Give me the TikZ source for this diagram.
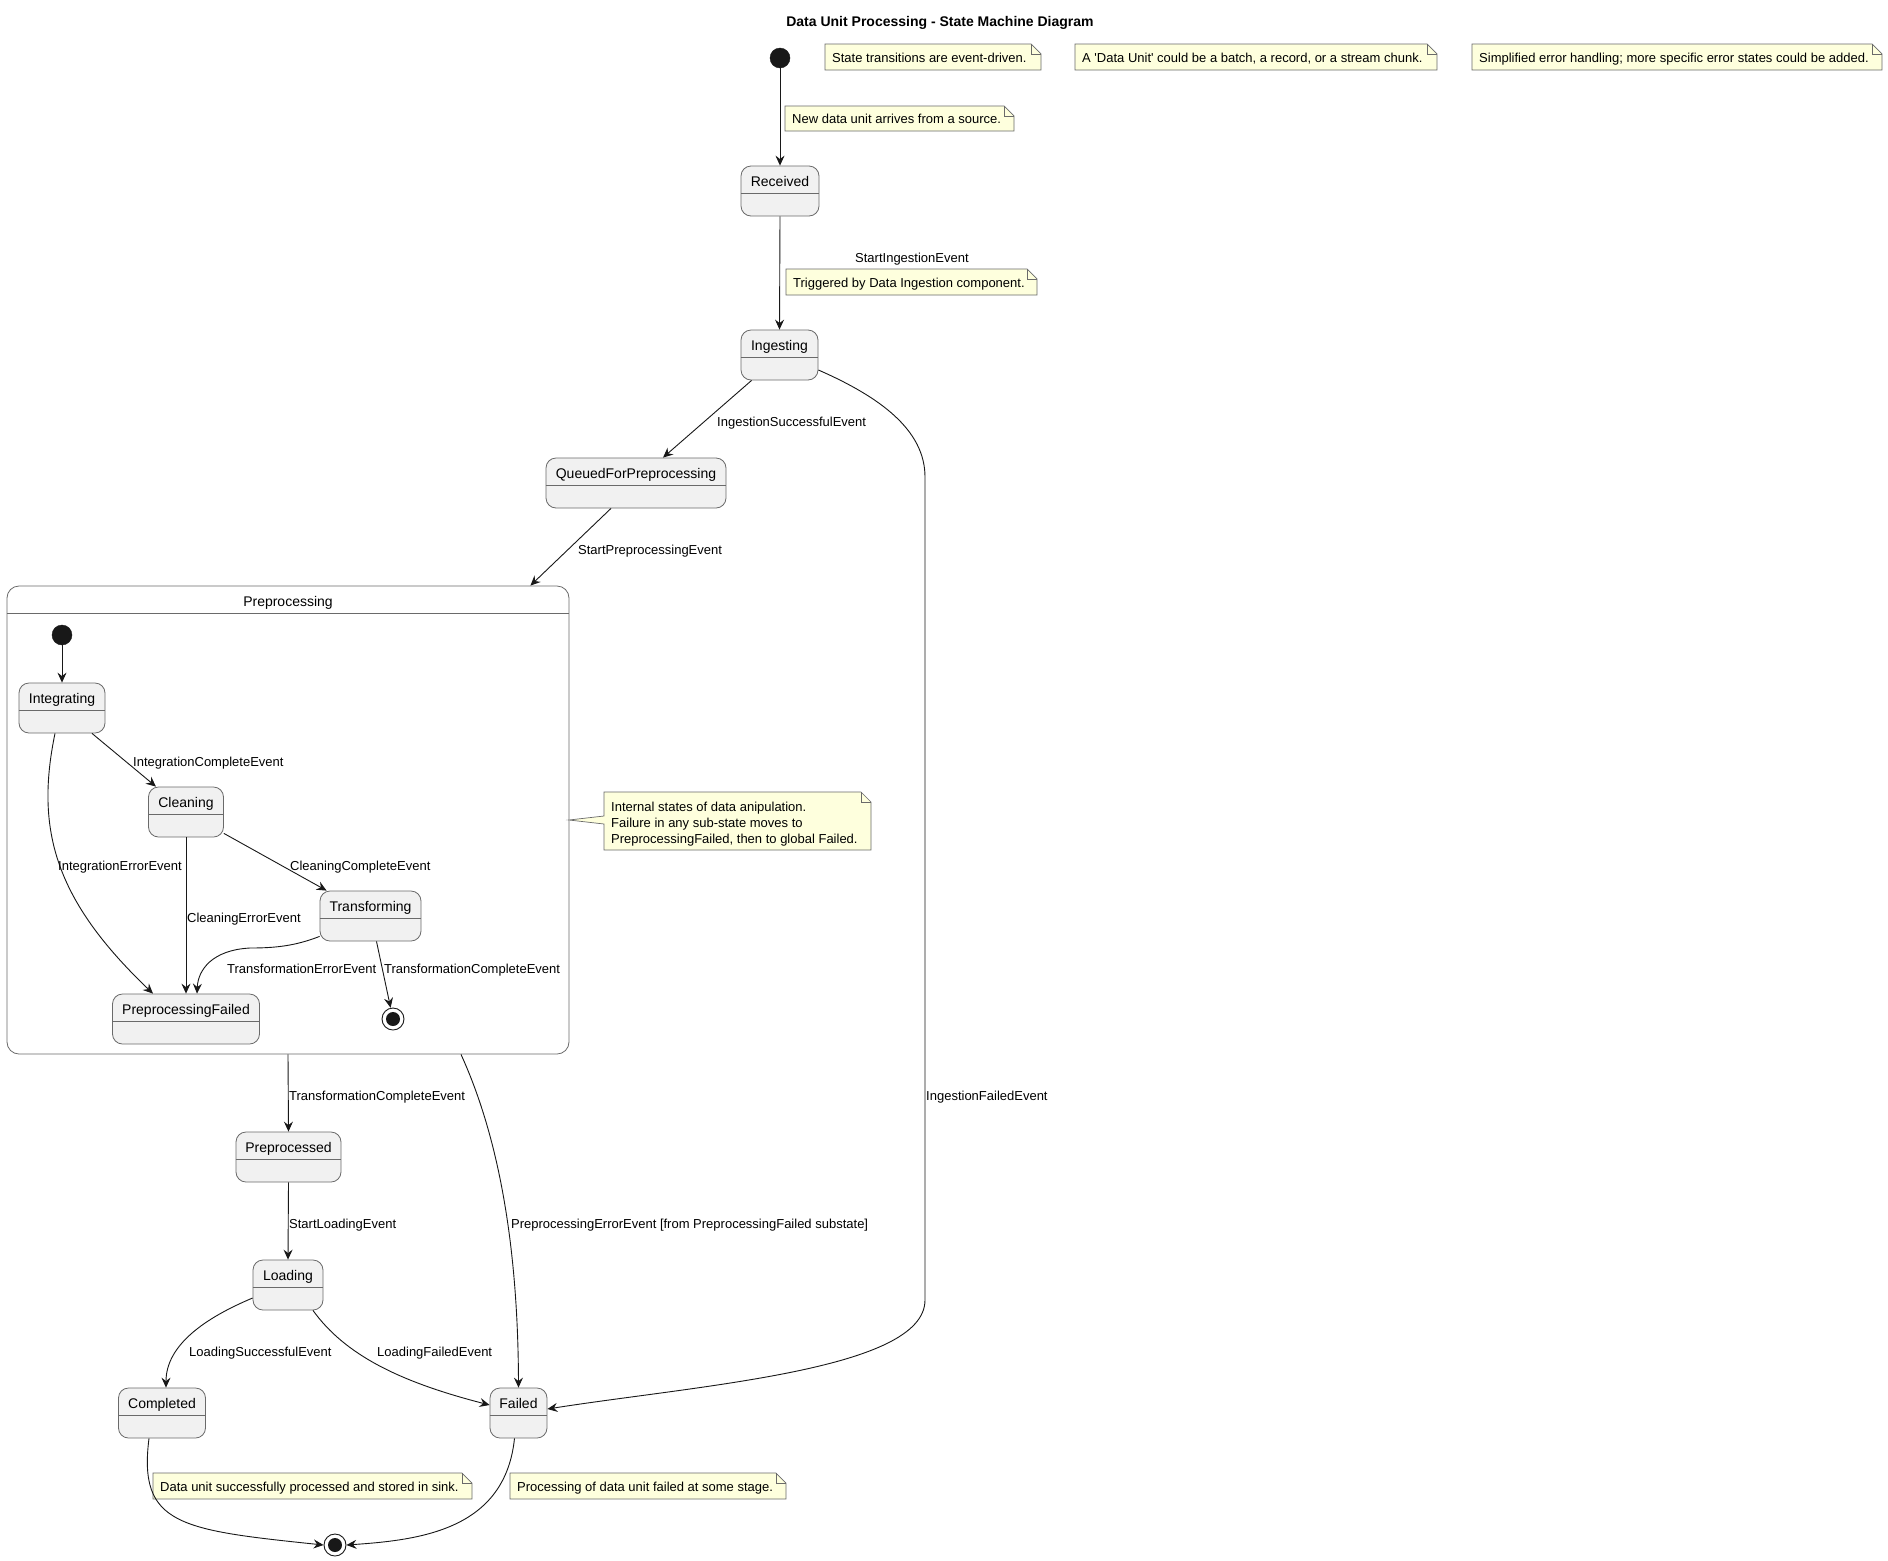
\documentclass[tikz,border=0pt]{standalone}
\usepackage{fontspec}
\setmainfont{Liberation Sans}
\usetikzlibrary{arrows.meta,calc}
\definecolor{stfill}{HTML}{F1F1F1}
\definecolor{stline}{HTML}{6A6A6A}
\definecolor{notefill}{HTML}{FEFFDD}
\definecolor{ink}{HTML}{181818}
\newcommand\mkstate[5]{%
  \node[st, minimum width=#4pt] (#1) at (#2,#3+25) {};
  \draw[sepl] ([yshift=-28pt]#1.north west) -- ([yshift=-28pt]#1.north east);
  \node[sname, anchor=base] (#1-name) at ([yshift=-21pt]#1.north) {#5};
}
\newcommand\mknote[6]{%
  \path[notebg] (#2,#3) -- (#4-10,#3) -- (#4,#3+10) -- (#4,#5) -- (#2,#5) -- cycle;
  \draw[notefold] (#4-10,#3) -- (#4-10,#3+10) -- (#4,#3+10);
  \node[ntxt] (#1) at (#2+7, {(#3+#5)/2+5}) {#6};
}
\begin{document}
\begin{tikzpicture}[x=1pt,y=-1pt,
  st/.style={draw=stline, fill=stfill, line width=0.8pt, rounded corners=10pt, minimum height=50pt, inner sep=0pt},
  sepl/.style={draw=stline, line width=0.8pt},
  sname/.style={font=\fontsize{14}{16}\selectfont, inner sep=0pt, text=black},
  lbl/.style={font=\fontsize{13}{15}\selectfont, inner sep=0pt, anchor=base west, text=black},
  arr/.style={draw=ink, line width=0.9pt, -{Stealth[length=10pt,width=9pt,inset=3.5pt]}},
  notebg/.style={draw=stline, fill=notefill, line width=0.7pt},
  notefold/.style={draw=stline, line width=0.7pt},
  ntxt/.style={font=\fontsize{13}{15}\selectfont, inner sep=0pt, anchor=base west, text=black},
  initdot/.style={circle, fill=ink, draw=ink, minimum size=20pt, inner sep=0pt},
  finalst/.style={circle, draw=ink, fill=white, line width=0.9pt, minimum size=22pt, inner sep=0pt,
    path picture={\fill[ink] (path picture bounding box.center) circle (7pt);}}
]
\useasboundingbox (0,0) rectangle (1888,1561);
\fill[white] (0,0) rectangle (1888,1561);

% title
\node[font=\bfseries\fontsize{14}{16}\selectfont, inner sep=0pt, anchor=base] (title) at (940,26) {Data Unit Processing - State Machine Diagram};

% top notes
\mknote{n1}{825}{44}{1041}{70}{State transitions are event-driven.}
\mknote{n2}{1075}{44}{1437}{70}{A \textquotesingle Data Unit\textquotesingle\ could be a batch, a record, or a stream chunk.}
\mknote{n3}{1472}{44}{1882}{70}{Simplified error handling; more specific error states could be added.}
\mknote{n4}{785}{106}{1014}{131}{New data unit arrives from a source.}
\mknote{n5}{786}{269}{1037}{295}{Triggered by Data Ingestion component.}
\mknote{n7}{153}{1473}{472}{1499}{Data unit successfully processed and stored in sink.}
\mknote{n8}{510}{1473}{786}{1499}{Processing of data unit failed at some stage.}

% composite state
\node[draw=stline, fill=white, line width=0.8pt, rounded corners=12pt, minimum width=562pt, minimum height=468pt, inner sep=0pt] (pre) at (288,820) {};
\draw[sepl] ([yshift=-28pt]pre.north west) -- ([yshift=-28pt]pre.north east);
\node[sname, anchor=base] (pre-name) at ([yshift=-21pt]pre.north) {Preprocessing};

% note with pointer to composite
\path[notebg] (604,792) -- (861,792) -- (871,802) -- (871,850) -- (604,850) -- (604,824) -- (569,820) -- (604,816) -- cycle;
\draw[notefold] (861,792) -- (861,802) -- (871,802);
\node[ntxt] (n6a) at (611,811) {Internal states of data anipulation.};
\node[ntxt] (n6b) at (611,827) {Failure in any sub-state moves to};
\node[ntxt] (n6c) at (611,843) {PreprocessingFailed, then to global Failed.};

% states
\node[initdot] (i1) at (780,58) {};
\mkstate{rec}{780}{166}{78}{Received}
\mkstate{ing}{779.5}{330}{77}{Ingesting}
\mkstate{que}{636}{458}{180}{QueuedForPreprocessing}
\node[initdot] (i2) at (62,635) {};
\mkstate{integ}{62}{683}{86}{Integrating}
\mkstate{clean}{186}{787}{75}{Cleaning}
\mkstate{trans}{370.5}{891}{101}{Transforming}
\mkstate{pf}{186}{994}{147}{PreprocessingFailed}
\node[finalst] (f2) at (393,1019) {};
\mkstate{ppd}{288.5}{1132}{105}{Preprocessed}
\mkstate{load}{288}{1260}{70}{Loading}
\mkstate{comp}{162}{1388}{87}{Completed}
\mkstate{fail}{518.5}{1388}{57}{Failed}
\node[finalst] (f1) at (335,1545) {};

% outer transitions
\draw[arr] (i1) -- (rec.north);
\draw[arr] (rec.south) -- (ing.north);
\draw[arr] ([xshift=11pt]ing.south west) -- ([xshift=27pt]que.north);
\draw[arr] ([xshift=-25pt]que.south) -- ([xshift=-39pt]pre.north east);
\draw[arr] ([yshift=-15pt]ing.east) .. controls (880,397) and (925,430) .. (925,477)
  -- (925,1300) .. controls (925,1370) and (700,1385) .. ([yshift=4pt]fail.east);
\draw[arr] (pre.south) -- (ppd.north);
\draw[arr] ([xshift=173pt]pre.south) .. controls (500,1140) and (518,1250) .. (fail.north);
\draw[arr] (ppd.south) -- (load.north);
\draw[arr] ([yshift=-13pt]load.west) .. controls (205,1318) and (166,1345) .. ([xshift=4pt]comp.north);
\draw[arr] ([xshift=25pt]load.south) .. controls (345,1355) and (400,1382) .. ([yshift=8pt]fail.west);
\draw[arr] ([xshift=-13pt]comp.south) .. controls (138,1525) and (180,1530) .. (f1.west);
\draw[arr] ([xshift=-4pt]fail.south) .. controls (505,1530) and (420,1540) .. (f1.east);

% inner transitions
\draw[arr] (i2) -- (integ.north);
\draw[arr] ([xshift=30pt]integ.south) -- ([xshift=-30pt]clean.north);
\draw[arr] ([xshift=-7pt]integ.south) .. controls (35,830) and (55,900) .. ([xshift=-33pt]pf.north);
\draw[arr] (clean.south) -- (pf.north);
\draw[arr] ([yshift=4pt]clean.south east) -- ([xshift=7pt]trans.north west);
\draw[arr] ([yshift=5pt]trans.south west) .. controls (295,946) and (275,948) .. (250,948)
  .. controls (212,950) and (198,970) .. ([xshift=11pt]pf.north);
\draw[arr] ([xshift=6pt]trans.south) -- (f2);

% labels
\node[lbl] (l1) at (855,262) {StartIngestionEvent};
\node[lbl] (l2) at (717,426) {IngestionSuccessfulEvent};
\node[lbl] (l3) at (578,554) {StartPreprocessingEvent};
\node[lbl] (l4) at (926,1100) {IngestionFailedEvent};
\node[lbl] (l5) at (133,766) {IntegrationCompleteEvent};
\node[lbl] (l6) at (58,870) {IntegrationErrorEvent};
\node[lbl] (l7) at (290,870) {CleaningCompleteEvent};
\node[lbl] (l8) at (187,922) {CleaningErrorEvent};
\node[lbl] (l9) at (227,973) {TransformationErrorEvent};
\node[lbl] (l10) at (384,973) {TransformationCompleteEvent};
\node[lbl] (l11) at (289,1100) {TransformationCompleteEvent};
\node[lbl] (l12) at (289,1228) {StartLoadingEvent};
\node[lbl] (l13) at (511,1228) {PreprocessingErrorEvent [from PreprocessingFailed substate]};
\node[lbl] (l14) at (189,1356) {LoadingSuccessfulEvent};
\node[lbl] (l15) at (377,1356) {LoadingFailedEvent};
\end{tikzpicture}
\end{document}
